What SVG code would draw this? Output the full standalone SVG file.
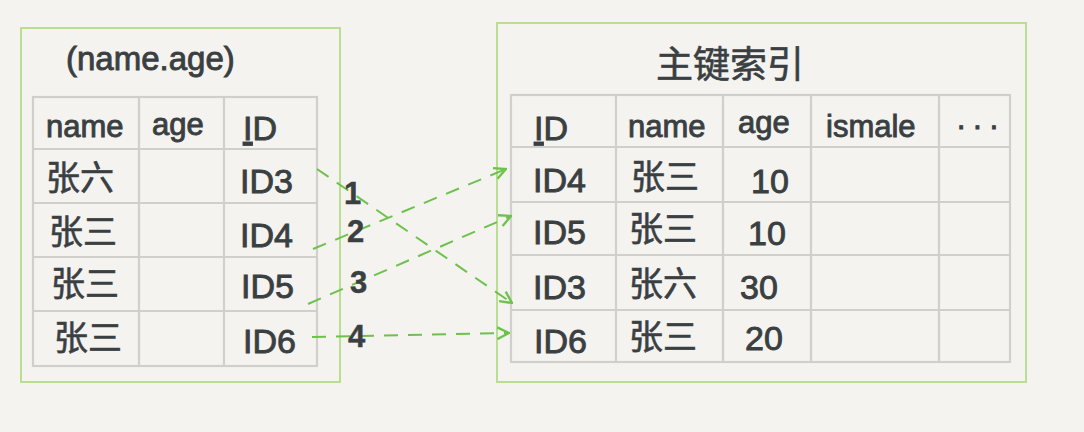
<svg xmlns="http://www.w3.org/2000/svg" width="1084" height="432" viewBox="0 0 1084 432">
<defs>
<style>
.bg{fill:#f4f3ef}
.box{fill:none;stroke:#b9de92;stroke-width:2}
.grid{fill:none;stroke:#cfcfcc;stroke-width:2.2}
.t{font-family:"Liberation Sans","Noto Sans CJK SC",sans-serif;fill:#3a3f42;stroke:#3a3f42;stroke-width:0.9}
.en{font-size:31px}
.id{font-size:34px}
.cn{font-size:34px;font-family:"Noto Sans CJK SC","Liberation Sans",sans-serif;stroke-width:0.6}
.num{font-size:31px;font-weight:bold;stroke-width:0.4}
.conn{fill:none;stroke:#6cc24a;stroke-width:2;stroke-dasharray:14 10}
</style>
<marker id="ah" viewBox="0 0 12 12" refX="11" refY="6" markerWidth="14" markerHeight="14" markerUnits="userSpaceOnUse" orient="auto">
<path d="M1,1 L11,6 L1,11" fill="none" stroke="#6cc24a" stroke-width="2"/>
</marker>
</defs>
<rect class="bg" x="0" y="0" width="1084" height="432"/>

<g id="secondary-index">
<rect class="box" x="21" y="28" width="319" height="354"/>
<text class="t" x="66" y="70" style="font-size:33px">(name.age)</text>
<rect class="grid" x="33" y="97" width="284" height="269"/>
<path class="grid" d="M139,97 V366 M224,97 V366 M33,149 H317 M33,203 H317 M33,257 H317 M33,311 H317"/>
<text class="t en" x="46" y="137">name</text>
<text class="t en" x="152" y="135">age</text>
<text class="t id" x="243" y="140"><tspan text-decoration="underline">I</tspan>D</text>
<text class="t cn" x="46" y="190">张六</text>
<text class="t cn" x="49" y="244">张三</text>
<text class="t cn" x="51" y="296">张三</text>
<text class="t cn" x="54" y="350">张三</text>
<text class="t id" x="240" y="193">ID3</text>
<text class="t id" x="240" y="247">ID4</text>
<text class="t id" x="241" y="298">ID5</text>
<text class="t id" x="243" y="353">ID6</text>
</g>

<g id="primary-index">
<rect class="box" x="497" y="23" width="529" height="359"/>
<text class="t cn" x="656" y="78" style="font-size:37px">主键索引</text>
<rect class="grid" x="511" y="95" width="499" height="267"/>
<path class="grid" d="M616,95 V362 M723,95 V362 M811,95 V362 M939,95 V362 M511,147 H1010 M511,202 H1010 M511,255 H1010 M511,310 H1010"/>
<text class="t id" x="534" y="140"><tspan text-decoration="underline">I</tspan>D</text>
<text class="t en" x="628" y="137">name</text>
<text class="t en" x="738" y="133">age</text>
<text class="t en" x="826" y="137">ismale</text>
<text class="t en" x="956" y="136" letter-spacing="6">···</text>
<text class="t id" x="533" y="192">ID4</text>
<text class="t id" x="533" y="244">ID5</text>
<text class="t id" x="533" y="299">ID3</text>
<text class="t id" x="534" y="353">ID6</text>
<text class="t cn" x="631" y="189">张三</text>
<text class="t cn" x="629" y="241">张三</text>
<text class="t cn" x="629" y="296">张六</text>
<text class="t cn" x="629" y="349">张三</text>
<text class="t id" x="751" y="193">10</text>
<text class="t id" x="748" y="245">10</text>
<text class="t id" x="740" y="299">30</text>
<text class="t id" x="745" y="350">20</text>
</g>

<g id="connectors">
<path class="conn" d="M317,169 L512,303" marker-end="url(#ah)"/>
<path class="conn" d="M313,249 L506,169" marker-end="url(#ah)"/>
<path class="conn" d="M308,304 L511,216" marker-end="url(#ah)"/>
<path class="conn" d="M312,337 L509,333" marker-end="url(#ah)"/>
<text class="t num" x="344" y="204">1</text>
<text class="t num" x="347" y="242">2</text>
<text class="t num" x="350" y="293">3</text>
<text class="t num" x="348" y="347">4</text>
</g>
</svg>
